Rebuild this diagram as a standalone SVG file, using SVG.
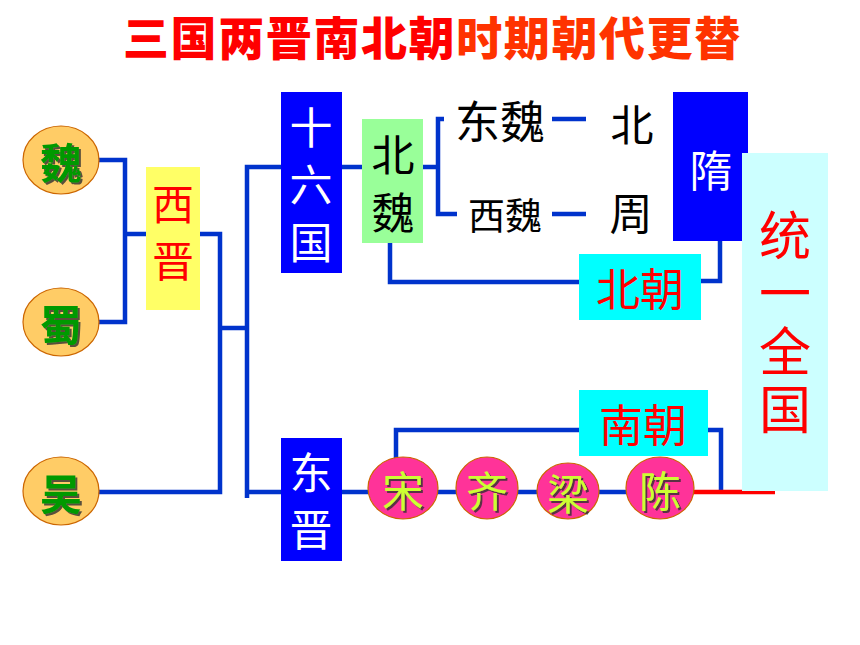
<svg xmlns="http://www.w3.org/2000/svg" width="860" height="645" viewBox="0 0 860 645">
<defs>
<filter id="sh" x="-20%" y="-20%" width="140%" height="140%">
<feDropShadow dx="2" dy="2" stdDeviation="0.6" flood-color="#333333" flood-opacity="0.8"/>
</filter>
</defs>
<style>
text{font-family:"Noto Sans CJK SC","Noto Sans",sans-serif;dominant-baseline:central;text-anchor:middle}
.ln{fill:none;stroke:#0033CC;stroke-width:4.5;stroke-linejoin:miter}
.red{fill:none;stroke:#FF0000;stroke-width:4.5}
.kd{fill:#FFCC66;stroke:#CC6600;stroke-width:1.2}
.kt{fill:#009900;font-size:42px;font-weight:bold;filter:url(#sh)}
.sd{fill:#FF3399;stroke:#CC6600;stroke-width:1.2}
.st{fill:#CCFF33;font-size:42px;filter:url(#sh)}
.bl{fill:#0000FF}
.wt{fill:#FFFFFF;font-size:43px}
.rt{fill:#FF0000;font-size:44px}
.bk{fill:#000000;font-size:43px}
</style>
<rect width="860" height="645" fill="#FFFFFF"/>
<text x="123" y="35" style="text-anchor:start;font-size:46px;font-weight:900;letter-spacing:1.6px"><tspan fill="#FF0000">三国两晋南北朝</tspan><tspan fill="#FF3300">时期朝代更替</tspan></text>
<g id="connectors">
<polyline class="ln" points="98,160 125,160 125,322 98,322"/>
<line class="ln" x1="125" y1="234" x2="146" y2="234"/>
<polyline class="ln" points="200,234 220,234 220,492 98,492"/>
<line class="ln" x1="220" y1="328" x2="247" y2="328"/>
<polyline class="ln" points="281,167 247,167 247,498"/>
<line class="ln" x1="247" y1="492" x2="281" y2="492"/>
<line class="ln" x1="342" y1="167" x2="362" y2="167"/>
<line class="ln" x1="423" y1="167" x2="438" y2="167"/>
<polyline class="ln" points="444,119 438,119 438,214 457,214"/>
<line class="ln" x1="552" y1="119" x2="586" y2="119"/>
<line class="ln" x1="552" y1="214" x2="586" y2="214"/>
<polyline class="ln" points="390,243 390,282 579,282"/>
<polyline class="ln" points="701,281 720,281 720,241"/>
<line class="ln" x1="342" y1="492" x2="368" y2="492"/>
<line class="ln" x1="437" y1="492" x2="457" y2="492"/>
<line class="ln" x1="518" y1="492" x2="538" y2="492"/>
<line class="ln" x1="599" y1="492" x2="626" y2="492"/>
<polyline class="ln" points="396,458 396,430 579,430"/>
<polyline class="ln" points="708,430 721,430 721,492"/>
<line class="red" x1="693" y1="492" x2="775" y2="492"/>
</g>
<g id="wei"><ellipse class="kd" cx="61" cy="160" rx="38" ry="34"/><text class="kt" x="61" y="160">魏</text></g>
<g id="shu"><ellipse class="kd" cx="61" cy="322" rx="38" ry="34"/><text class="kt" x="61" y="322">蜀</text></g>
<g id="wu"><ellipse class="kd" cx="61" cy="491" rx="38" ry="34"/><text class="kt" x="61" y="491">吴</text></g>
<g id="xijin"><rect x="146" y="167" width="54" height="143" fill="#FFFF66"/><text class="rt" x="173" y="201" style="font-size:42px">西</text><text class="rt" x="173" y="258" style="font-size:42px">晋</text></g>
<g id="shiliuguo"><rect class="bl" x="281" y="92" width="61" height="181"/><text class="wt" x="311" y="125">十</text><text class="wt" x="311" y="182">六</text><text class="wt" x="311" y="240">国</text></g>
<g id="dongjin"><rect class="bl" x="281" y="438" width="61" height="123"/><text class="wt" x="311" y="470">东</text><text class="wt" x="311" y="527">晋</text></g>
<g id="beiwei"><rect x="362" y="119" width="61" height="124" fill="#99FF99"/><text class="bk" x="393" y="152">北</text><text class="bk" x="393" y="210">魏</text></g>
<g id="dongwei"><text class="bk" x="500" y="119" style="font-size:45px">东魏</text></g>
<g id="xiwei"><text class="bk" x="505" y="214" style="font-size:37px">西魏</text></g>
<g id="beiqi"><text class="bk" x="632" y="122">北</text></g>
<g id="beizhou"><text class="bk" x="631" y="211">周</text></g>
<g id="sui"><rect class="bl" x="673" y="92" width="75" height="149"/><text class="wt" x="711" y="168">隋</text></g>
<g id="beichao"><rect x="579" y="254" width="122" height="66" fill="#00FFFF"/><text class="rt" x="640" y="287">北朝</text></g>
<g id="nanchao"><rect x="579" y="390" width="129" height="66" fill="#00FFFF"/><text class="rt" x="643" y="423">南朝</text></g>
<g id="tongyi"><rect x="742" y="153" width="86" height="338" fill="#CCFFFF"/><text class="rt" x="785" y="325" writing-mode="vertical-rl" style="font-size:52px;letter-spacing:6px;dominant-baseline:central;text-anchor:middle">统一全国</text></g>
<g id="song"><ellipse class="sd" cx="403" cy="488" rx="35" ry="31"/><text class="st" x="403" y="488">宋</text></g>
<g id="qi"><ellipse class="sd" cx="487" cy="488" rx="31" ry="31"/><text class="st" x="487" y="488">齐</text></g>
<g id="liang"><ellipse class="sd" cx="568" cy="491" rx="31" ry="28"/><text class="st" x="568" y="491">梁</text></g>
<g id="chen"><ellipse class="sd" cx="660" cy="488" rx="34" ry="31"/><text class="st" x="660" y="488">陈</text></g>
</svg>
